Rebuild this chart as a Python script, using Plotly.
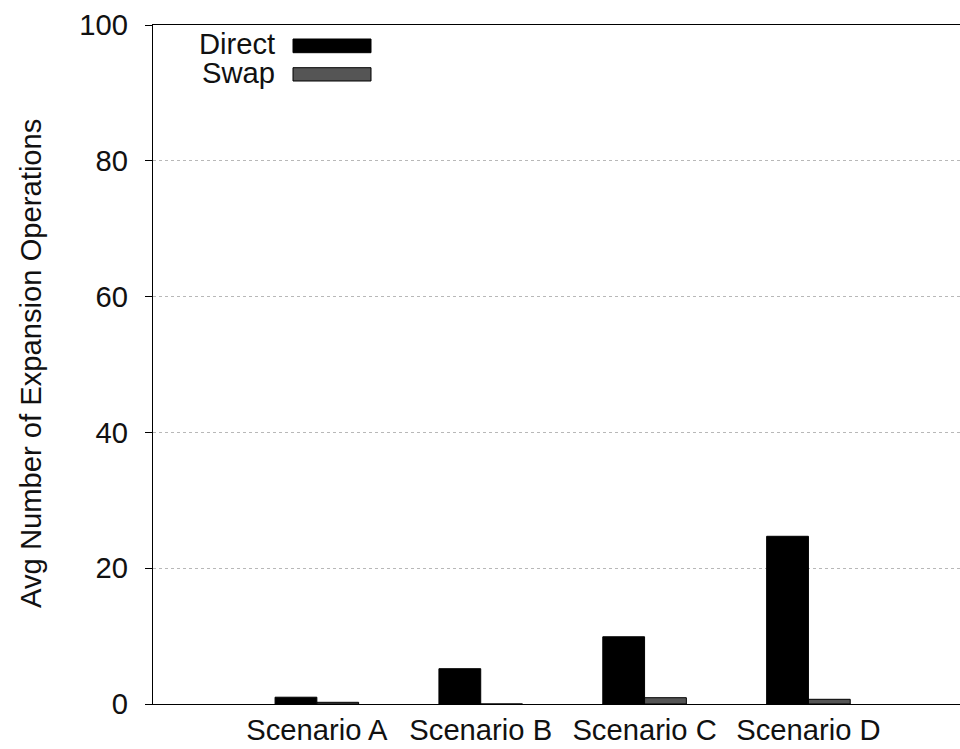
import plotly.graph_objects as go

categories = ["Scenario A", "Scenario B", "Scenario C", "Scenario D"]
direct_vals = [1.0, 5.2, 9.9, 24.7]
swap_vals = [0.25, 0.0, 0.93, 0.69]
y_ticks = [0, 20, 40, 60, 80, 100]

W, H = 960, 749
L, R, T, B = 153, 0, 25, 45
PW, PH = W - L - R, H - T - B
FONT = dict(family="Liberation Sans, Arial, sans-serif", size=29.2, color="#111111")


def px(x):
    return (x - L) / PW


def py(y):
    return (H - B - y) / PH


fig = go.Figure()
fig.add_trace(go.Bar(name="Direct", x=categories, y=direct_vals,
                     marker=dict(color="#000000", line=dict(color="#000000", width=1))))
fig.add_trace(go.Bar(name="Swap", x=categories, y=swap_vals,
                     marker=dict(color="#555555", line=dict(color="#000000", width=1))))

fig.update_layout(
    width=W, height=H,
    margin=dict(l=L, r=R, t=T, b=B, pad=0),
    paper_bgcolor="white", plot_bgcolor="white",
    barmode="group", bargap=0.49, bargroupgap=0,
    showlegend=False,
    font=FONT,
)
fig.update_xaxes(
    range=[-1.0, 3.925], showline=True, linecolor="#000000", linewidth=1.3,
    mirror=True, ticks="", showgrid=False, tickfont=FONT, ticklabelstandoff=0,
)
fig.update_yaxes(
    range=[0, 100], tickvals=y_ticks, showline=True, linecolor="#000000", linewidth=1.3,
    ticks="outside", ticklen=7, tickwidth=1.3, tickcolor="#000000",
    showgrid=True, gridcolor="#b8b8b8", griddash="dot", gridwidth=1,
    zeroline=False, tickfont=FONT, ticklabelstandoff=11,
)

# y-axis title
fig.add_annotation(text="Avg Number of Expansion Operations", xref="paper", yref="paper",
                   x=px(31), y=py(364), textangle=-90, showarrow=False,
                   xanchor="center", yanchor="middle", font=FONT)

# legend (gnuplot style: label on the left, long swatch on the right)
legend_items = [("Direct", "#000000", 39, 52.7), ("Swap", "#555555", 67.7, 81)]
for name, col, y0, y1 in legend_items:
    fig.add_shape(type="rect", xref="paper", yref="paper",
                  x0=px(293), x1=px(371), y0=py(y1), y1=py(y0),
                  fillcolor=col, line=dict(color="#000000", width=1))
    fig.add_annotation(text=name, xref="paper", yref="paper",
                       x=px(277), y=py((y0 + y1) / 2 - 1.5), showarrow=False,
                       xanchor="right", yanchor="middle", font=FONT)

fig.write_html(
    "out.html",
    config={"displayModeBar": False},
    post_script="document.body.style.margin='0';document.body.style.overflow='hidden';",
)
